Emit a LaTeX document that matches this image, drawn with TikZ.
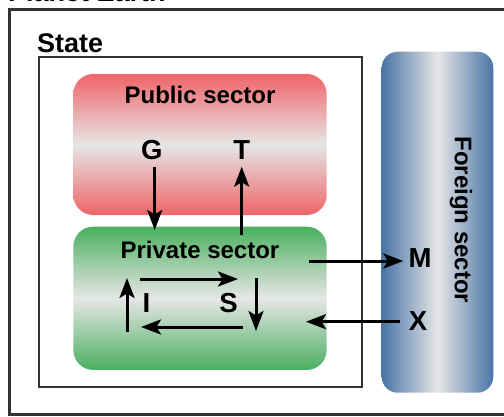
\documentclass[tikz,border=0pt]{standalone}
\usepackage{fontspec}
\setmainfont{Liberation Sans}
\usetikzlibrary{arrows.meta}

\definecolor{pubred}{HTML}{EE6468}
\definecolor{privgreen}{HTML}{4AB05E}
\definecolor{forblue}{HTML}{4874A6}
\definecolor{shine}{HTML}{E6E6E6}
\definecolor{frame}{HTML}{333333}

\tikzset{
  sector/.style={rectangle, rounded corners=20pt, draw=none, inner sep=0pt,
                 minimum width=253.4pt},
  heading/.style={font=\bfseries\fontsize{24}{28}\selectfont, inner sep=0pt},
  bigheading/.style={font=\bfseries\fontsize{27}{30}\selectfont, inner sep=0pt},
  flowlabel/.style={font=\bfseries\fontsize{27.5}{30}\selectfont, inner sep=0pt},
  flow/.style={line width=3pt, -{Stealth[length=20pt,width=15pt,inset=4.5pt]}},
}

\begin{document}
\begin{tikzpicture}[x=1pt,y=-1pt]
  \useasboundingbox (0,0) rectangle (504,416);
  \clip (0,0) rectangle (504,416);

  % outermost frame with its title above the page edge
  \node[bigheading, anchor=base west] (earth) at (8,1.2) {Planet Earth};
  \draw[frame, line width=3pt] (530,9.5) -- (9.5,9.5) -- (9.5,414.5) -- (530,414.5);

  % the state frame
  \node[bigheading, anchor=base west] (statelbl) at (37,52) {State};
  \draw[frame, line width=2pt] (39,57) rectangle (362,387);

  % sector boxes
  \node[sector, minimum height=141pt, top color=pubred, bottom color=pubred,
        middle color=shine] (pub) at (200,144.5) {};
  \node[sector, minimum height=143.3pt, top color=privgreen, bottom color=privgreen,
        middle color=shine] (priv) at (200,298.3) {};
  \node[rectangle, rounded corners=16pt, inner sep=0pt, minimum width=111.6pt,
        minimum height=341pt, left color=forblue, right color=forblue,
        middle color=shine] (for) at (437.5,222.2) {};

  % sector titles
  \node[heading] (publbl) at (200,95) {Public sector};
  \node[heading] (privlbl) at (200,250) {Private sector};
  \node[heading, rotate=-90] (forlbl) at (461,220) {Foreign sector};

  % flow labels
  \node[flowlabel] (G) at (151.7,150) {G};
  \node[flowlabel] (T) at (241.7,150) {T};
  \node[flowlabel] (I) at (146.5,303) {I};
  \node[flowlabel] (S) at (228.5,303) {S};
  \node[flowlabel] (M) at (420,258) {M};
  \node[flowlabel] (X) at (418,321.5) {X};

  % government spending and taxes
  \draw[flow, shorten <=7pt, shorten >=-3.5pt]
    ([xshift=3pt]G.south) -- ([xshift=3pt]G.south |- priv.north);
  \draw[flow, shorten <=-9pt, shorten >=7pt]
    (T.south |- priv.north) -- (T.south);

  % investment / saving circuit
  \coordinate (ca) at (140,279);
  \coordinate (cb) at (238,279);
  \coordinate (cc) at (256,278);
  \coordinate (cd) at (256,331);
  \coordinate (ce) at (243,327);
  \coordinate (cf) at (141,327);
  \coordinate (cg) at (127,332);
  \coordinate (ch) at (127,278);
  \draw[flow] (ca) -- (cb);
  \draw[flow] (cc) -- (cd);
  \draw[flow] (ce) -- (cf);
  \draw[flow] (cg) -- (ch);

  % imports and exports
  \coordinate (mstart) at (309,261);
  \draw[flow, shorten >=5pt] (mstart) -- (M.west |- mstart);
  \coordinate (xend) at (306,321.7);
  \draw[flow, shorten <=9pt] (X.west |- xend) -- (xend);
\end{tikzpicture}
\end{document}
